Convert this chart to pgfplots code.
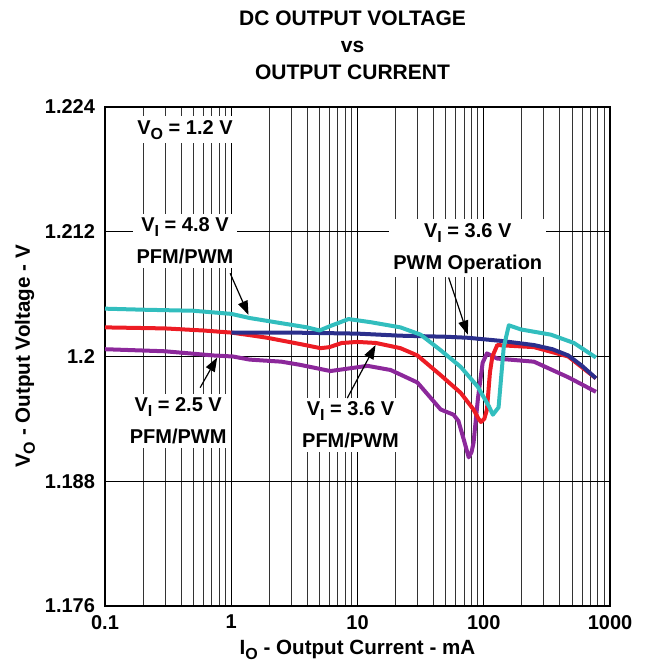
\documentclass[border=0pt]{standalone}
\usepackage{fontspec}
\setmainfont{Liberation Sans}
\usepackage{pgfplots}
\pgfplotsset{compat=1.18}
\usetikzlibrary{arrows.meta}

\definecolor{cteal}{RGB}{50,190,190}
\definecolor{cred}{RGB}{237,28,36}
\definecolor{cnavy}{RGB}{43,47,140}
\definecolor{cpurple}{RGB}{140,40,155}

\newcommand{\sub}[1]{\raisebox{-0.45ex}{\fontsize{8}{8}\selectfont #1}}

\begin{document}
\begin{tikzpicture}[font=\fontsize{10}{12}\selectfont\bfseries]
\begin{axis}[
  name=ax,
  xmode=log,
  width=252.5pt, height=249.5pt, scale only axis,
  xmin=0.1, xmax=1000, ymin=1.176, ymax=1.224,
  xtick={0.1,1,10,100,1000},
  xticklabels={0.1,1,10,100,1000},
  minor xtick={0.2,0.3,0.4,0.5,0.6,0.7,0.8,0.9,2,3,4,5,6,7,8,9,20,30,40,50,60,70,80,90,200,300,400,500,600,700,800,900},
  ytick={1.176,1.188,1.2,1.212,1.224},
  yticklabels={1.176,1.188,1.2,1.212,1.224},
  xmajorgrids, xminorgrids, ymajorgrids,
  major grid style={black, line width=0.6pt},
  minor grid style={black!80, line width=0.5pt},
  axis line style={line width=1.2pt},
  tick style={draw=none},
  yticklabel style={xshift=-1.5pt},
  xticklabel style={yshift=-1pt},
  every axis plot/.append style={line width=2pt, line join=round},
]

% V_I = 2.5 V
\addplot[cpurple] coordinates {
(0.1,1.2007) (0.3,1.2005) (0.72,1.2001) (1.03,1.2000) (1.4,1.1997) (2.5,1.1995)
(3.5,1.1992) (6.1,1.1986) (8,1.1988) (12,1.1991) (18.3,1.1987) (29.8,1.1975)
(45.6,1.1949) (57.6,1.1944) (63,1.1938) (69.5,1.1920) (76,1.1903) (80,1.1908)
(83,1.1917) (90,1.1960) (98,1.1994) (106,1.2003) (128,1.1998) (250,1.1995)
(467,1.1980) (774,1.1966)};

% V_I = 3.6 V PFM/PWM
\addplot[cred] coordinates {
(0.1,1.2028) (0.3,1.2027) (0.6,1.2025) (1.0,1.2023) (1.5,1.2020) (1.93,1.2018)
(3.5,1.2012) (5.1,1.2008) (6,1.2009) (7.5,1.2013) (10,1.2014) (14,1.2013)
(21.9,1.2008) (29.8,1.2001) (45.6,1.1982) (65.7,1.1965) (83,1.1949) (91,1.1940)
(95,1.1937) (101,1.1940) (106,1.1949) (112,1.1985) (117,1.2000) (128,1.2011)
(250,1.2009) (467,1.2000) (774,1.1979)};

% V_I = 3.6 V PWM
\addplot[cnavy] coordinates {
(1,1.2023) (3,1.2023) (10,1.2022) (22,1.2020) (50,1.2019) (75,1.2018)
(137,1.2015) (250,1.2011) (350,1.2007) (467,1.2001) (600,1.1991) (774,1.1979)};

% V_I = 4.8 V
\addplot[cteal] coordinates {
(0.1,1.2046) (0.2,1.2045) (0.5,1.2044) (1.0,1.2041) (1.4,1.2037) (2.5,1.2032)
(4.0,1.2028) (5.0,1.2025) (6.0,1.2029) (8.5,1.2036) (12.7,1.2033) (21.9,1.2028)
(31.6,1.2021) (45.6,1.2006) (65.7,1.1990) (89.5,1.1971) (110,1.1952) (118,1.1944)
(131,1.1951) (144,1.2009) (158,1.2030) (197,1.2026) (340,1.2021) (518,1.2013)
(774,1.1999)};

\tikzset{lbl/.style={fill=white, align=center, inner sep=2pt,
  font=\fontsize{10}{16}\selectfont\bfseries}}
\node[lbl] at (axis cs:0.43,1.2218) {V\sub{O} = 1.2 V};
\node[lbl] at (axis cs:0.43,1.2111) {V\sub{I} = 4.8 V\\PFM/PWM};
\node[lbl] at (axis cs:74.7,1.2104) {V\sub{I} = 3.6 V\\PWM Operation};
\node[lbl] at (axis cs:0.38,1.1938) {V\sub{I} = 2.5 V\\PFM/PWM};
\node[lbl] at (axis cs:8.8,1.1934) {V\sub{I} = 3.6 V\\PFM/PWM};

\tikzset{arr/.style={line width=0.6pt, -{Triangle[length=7pt,width=5pt]}}}
\draw[arr] (axis cs:0.98,1.2080) -- (axis cs:1.37,1.2040);
\draw[arr] (axis cs:52.7,1.2076) -- (axis cs:74.7,1.2021);
\draw[arr] (axis cs:0.567,1.1970) -- (axis cs:0.774,1.1999);
\draw[arr] (axis cs:8.3,1.1960) -- (axis cs:13.9,1.2011);
\end{axis}

\node[align=center, font=\fontsize{10.5}{13.5}\selectfont\bfseries]
  at ([xshift=-2.5pt,yshift=31pt]ax.north) {DC OUTPUT VOLTAGE\\vs\\OUTPUT CURRENT};
\node[font=\fontsize{10.3}{12}\selectfont\bfseries] at ([yshift=-22pt]ax.south) {I\sub{O} - Output Current - mA};
\node[rotate=90, font=\fontsize{10.3}{12}\selectfont\bfseries] at ([xshift=-40pt]ax.west) {V\sub{O} - Output Voltage - V};

\pgfresetboundingbox
\path[use as bounding box] ([xshift=-52.5pt,yshift=-30.5pt]ax.south west)
  rectangle ([xshift=19pt,yshift=53.5pt]ax.north east);
\end{tikzpicture}
\end{document}
